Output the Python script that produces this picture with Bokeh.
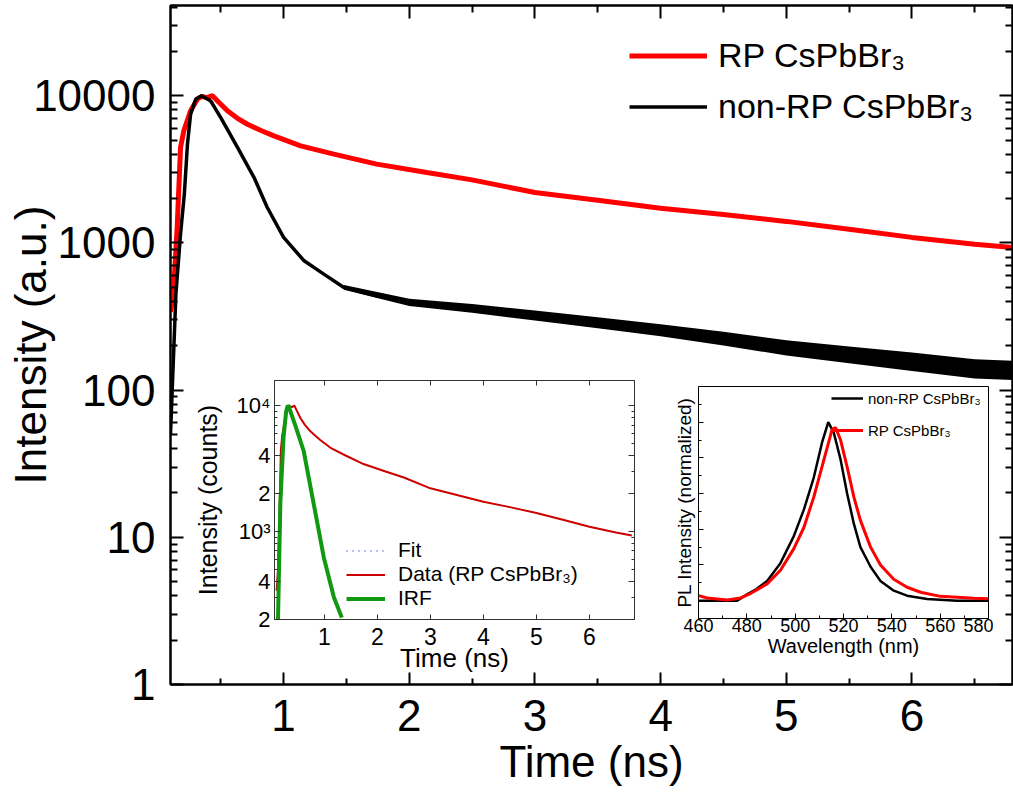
import numpy as np
from bokeh.plotting import figure
from bokeh.models import Range1d, FixedTicker, LogAxis, LinearAxis, GridBox, Column
from bokeh.embed import file_html
from bokeh.resources import INLINE

FONT = "Liberation Sans"

# ---------------- data ----------------
# main panel: TRPL decays (time in ns, intensity in a.u.)
rp_t = [0.10, 0.126, 0.153, 0.18, 0.206, 0.26, 0.315, 0.35, 0.39, 0.434, 0.48, 0.553, 0.63,
        0.712, 0.82, 0.923, 1.135, 1.4, 1.74, 2.14, 2.5, 3.0, 3.5, 4.0, 4.5, 5.0, 5.5, 6.0, 6.5, 6.8]
rp_i = [340, 500, 1270, 4450, 5770, 7890, 9500, 9900, 9700, 10000, 9100, 7890, 7050,
        6400, 5800, 5330, 4560, 4010, 3430, 3010, 2680, 2200, 1950, 1720, 1560, 1400, 1240, 1090, 980, 930]

nrp_t = [0.10, 0.143, 0.18, 0.21, 0.235, 0.26, 0.30, 0.347, 0.42, 0.5, 0.633, 0.765, 0.87, 1.0,
         1.16, 1.32, 1.48, 1.74, 2.0, 2.38, 3.12, 3.99, 4.86, 5.73, 6.6, 6.8]
nrp_i = [50, 450, 1150, 2140, 4690, 7490, 9470, 10000, 9200, 7100, 4450, 2780, 1740, 1090,
         760, 614, 498, 437, 393, 364, 312, 253, 195, 167, 135, 135]

# noise envelope of the non-RP tail
nrp_tail_t = [1.48, 2.0, 2.5, 3.0, 3.5, 4.0, 4.5, 5.0, 5.5, 6.0, 6.5, 6.8]
nrp_tail_lo = [480, 372, 335, 297, 263, 232, 201, 172, 152, 135, 120, 117]
nrp_tail_hi = [518, 418, 385, 347, 312, 280, 249, 218, 198, 180, 162, 158]

main_x_ticks = [1, 2, 3, 4, 5, 6]
main_x_labels = ["1", "2", "3", "4", "5", "6"]
main_y_ticks = [1, 10, 100, 1000, 10000]
main_y_labels = ["1", "10", "100", "1000", "10000"]

# inset 1: instrument response function
irf_t = [0.126, 0.17, 0.23, 0.28, 0.31, 0.33, 0.45, 0.61, 0.80, 0.99, 1.18, 1.33]
irf_i = [200, 1660, 5570, 9000, 10000, 9800, 7000, 4370, 1650, 622, 300, 207]

in1_x_ticks = [1, 2, 3, 4, 5, 6]
in1_y_ticks = [200, 400, 1000, 2000, 4000, 10000]
in1_y_labels = ["2", "4", "10³", "2", "4", "10⁴"]

# inset 2: PL spectra (normalized)
pl_nrp_wl = [460, 476, 480.1, 484, 488.4, 493.9, 499.4, 503.6, 507.7, 511.2, 513.7, 516, 518.8,
             521.5, 524.3, 527, 531.2, 535.3, 540.8, 546.3, 554.6, 567, 580]
pl_nrp_i = [0.0, 0.0, 0.035, 0.065, 0.11, 0.21, 0.36, 0.51, 0.69, 0.89, 1.0, 0.94, 0.79,
            0.60, 0.43, 0.30, 0.19, 0.11, 0.056, 0.028, 0.009, 0.0, 0.0]
pl_rp_wl = [460, 463.6, 471.9, 477.4, 481.5, 488.4, 493.9, 499.4, 503.6, 507.7, 511.9, 515.3,
            516.7, 518.8, 521.5, 524.3, 527, 531.2, 535.3, 540.8, 546.3, 551.9, 560.1, 573.9, 580]
pl_rp_i = [0.028, 0.015, 0.004, 0.015, 0.04, 0.094, 0.17, 0.29, 0.41, 0.58, 0.79, 0.96,
           0.97, 0.90, 0.75, 0.58, 0.45, 0.30, 0.20, 0.12, 0.075, 0.047, 0.024, 0.013, 0.01]

in2_x_ticks = [460, 480, 500, 520, 540, 560, 580]
in2_y_ticks = [0.0, 0.2, 0.4, 0.6, 0.8, 1.0]

# ---------------- helpers ----------------
def style_axis(ax, tin, minin, lw, color, fs, standoff, label_fs=None, label_standoff=0):
    ax.major_tick_in = tin
    ax.major_tick_out = 0
    ax.minor_tick_in = minin
    ax.minor_tick_out = 0
    ax.axis_line_width = lw
    ax.major_tick_line_width = lw
    ax.minor_tick_line_width = lw
    ax.axis_line_color = color
    ax.major_tick_line_color = color
    ax.minor_tick_line_color = color
    ax.major_label_text_font = FONT
    ax.major_label_text_font_size = fs
    ax.major_label_text_color = "black"
    ax.major_label_standoff = standoff
    if label_fs:
        ax.axis_label_text_font = FONT
        ax.axis_label_text_font_size = label_fs
        ax.axis_label_text_font_style = "normal"
        ax.axis_label_text_color = "black"
        ax.axis_label_standoff = label_standoff


def hide_labels(ax, ticks):
    ax.major_label_overrides = {t: "" for t in ticks}
    ax.major_label_text_font_size = "1px"
    ax.major_label_standoff = 0


def legend_style(lg, fs, gw, gh, standoff, loc):
    lg.location = loc
    lg.label_text_font = FONT
    lg.label_text_font_size = fs
    lg.label_text_color = "black"
    lg.glyph_width = gw
    lg.glyph_height = gh
    lg.label_height = gh
    lg.label_standoff = standoff
    lg.spacing = 0
    lg.padding = 0
    lg.margin = 0
    lg.border_line_color = None
    lg.background_fill_alpha = 0


# ---------------- main plot ----------------
p = figure(width=1013, height=792, x_range=Range1d(0.1, 6.8), y_range=Range1d(1, 41000),
           y_axis_type="log", output_backend="svg", toolbar_location=None,
           min_border_left=170, min_border_right=1, min_border_top=5, min_border_bottom=108,
           outline_line_color="black", outline_line_width=2)
p.xgrid.visible = False
p.ygrid.visible = False

mxt = FixedTicker(ticks=main_x_ticks, minor_ticks=[t + 0.5 for t in range(0, 7)])
myt = FixedTicker(ticks=main_y_ticks,
                  minor_ticks=[m * 10 ** k for k in range(5) for m in range(2, 10)])
p.xaxis.ticker = mxt
p.yaxis.ticker = myt
p.xaxis.major_label_overrides = dict(zip(main_x_ticks, main_x_labels))
p.yaxis.major_label_overrides = dict(zip(main_y_ticks, main_y_labels))
p.xaxis.axis_label = "Time (ns)"
p.yaxis.axis_label = "Intensity (a.u.)"
style_axis(p.xaxis[0], 12, 6, 2, "black", "44px", 15, "44px", 3)
style_axis(p.yaxis[0], 13, 7, 2, "black", "44px", 15, "44px", -25)

top = LinearAxis(ticker=mxt)
style_axis(top, 13, 7, 2, "black", "1px", 0)
hide_labels(top, main_x_ticks)
p.add_layout(top, "above")
right = LogAxis(ticker=myt)
style_axis(right, 13, 7, 2, "black", "1px", 0)
hide_labels(right, main_y_ticks)
p.add_layout(right, "right")

p.line(rp_t, rp_i, color="#ff0000", line_width=5, legend_label="RP CsPbBr₃")
p.varea(x=nrp_tail_t, y1=nrp_tail_lo, y2=nrp_tail_hi, color="black")
p.line(nrp_t, nrp_i, color="black", line_width=3.5, legend_label="non-RP CsPbBr₃")
legend_style(p.legend[0], "34px", 78, 51, 11, (459, 552))
p.legend[0].items[0].renderers[0].glyph.line_width = 5

# ---------------- inset 1 ----------------
i1 = figure(width=455, height=304, x_range=Range1d(0.06, 6.85), y_range=Range1d(200, 15800),
            y_axis_type="log", output_backend="svg", toolbar_location=None,
            min_border_left=90, min_border_right=5, min_border_top=5, min_border_bottom=60,
            outline_line_color="#333333", outline_line_width=1, border_fill_alpha=0)
i1.xgrid.visible = False
i1.ygrid.visible = False
i1xt = FixedTicker(ticks=in1_x_ticks, minor_ticks=[])
i1yt = FixedTicker(ticks=in1_y_ticks,
                   minor_ticks=[300, 500, 600, 700, 800, 900, 3000, 5000, 6000, 7000, 8000, 9000])
i1.xaxis.ticker = i1xt
i1.yaxis.ticker = i1yt
i1.yaxis.major_label_overrides = dict(zip(in1_y_ticks, in1_y_labels))
i1.xaxis.axis_label = "Time (ns)"
i1.yaxis.axis_label = "Intensity (counts)"
style_axis(i1.xaxis[0], 5, 3, 1, "#333333", "23px", 8, "26px", -5)
style_axis(i1.yaxis[0], 6, 3, 1, "#333333", "22px", 4, "25px", 12)
t1 = LinearAxis(ticker=i1xt)
style_axis(t1, 5, 3, 1, "#333333", "1px", 0)
hide_labels(t1, in1_x_ticks)
i1.add_layout(t1, "above")
r1 = LogAxis(ticker=i1yt)
style_axis(r1, 6, 3, 1, "#333333", "1px", 0)
hide_labels(r1, in1_y_ticks)
i1.add_layout(r1, "right")

i1.line([0.0], [100.0], color="#3344ff", line_width=2, line_dash="1 5", alpha=0.7, legend_label="Fit")
i1.line(rp_t, rp_i, color="#cc0000", line_width=2, legend_label="Data (RP CsPbBr₃)")
i1.line(irf_t, irf_i, color="#119911", line_width=4, legend_label="IRF")
legend_style(i1.legend[0], "21px", 39, 23, 13, (72, 9))

# ---------------- inset 2 ----------------
i2 = figure(width=327, height=287, x_range=Range1d(460, 580), y_range=Range1d(-0.1, 1.2),
            output_backend="svg", toolbar_location=None,
            min_border_left=32, min_border_right=5, min_border_top=5, min_border_bottom=50,
            outline_line_color="black", outline_line_width=1, border_fill_alpha=0)
i2.xgrid.visible = False
i2.ygrid.visible = False
i2.xaxis.ticker = FixedTicker(ticks=in2_x_ticks, minor_ticks=[470, 490, 510, 530, 550, 570])
i2.yaxis.ticker = FixedTicker(ticks=in2_y_ticks, minor_ticks=[-0.1, 0.1, 0.3, 0.5, 0.7, 0.9, 1.1])
i2.xaxis.axis_label = "Wavelength (nm)"
i2.yaxis.axis_label = "PL Intensity (normalized)"
style_axis(i2.xaxis[0], 5, 3, 1, "black", "18px", 0, "20px", 0)
style_axis(i2.yaxis[0], 5, 3, 1, "black", "1px", 0, "19px", 4)
hide_labels(i2.yaxis[0], in2_y_ticks)

i2.line(pl_nrp_wl, pl_nrp_i, color="black", line_width=2.5, legend_label="non-RP CsPbBr₃")
i2.line(pl_rp_wl, pl_rp_i, color="#ff0000", line_width=3, legend_label="RP CsPbBr₃")
legend_style(i2.legend[0], "15px", 32, 32, 5, (133, 172))

c1 = Column(children=[i1], margin=(375, 0, 0, 184))
c2 = Column(children=[i2], margin=(381, 0, 0, 666))
grid = GridBox(children=[(p, 0, 0), (c1, 0, 0), (c2, 0, 0)])

open("out.html", "w").write(file_html(grid, INLINE))
